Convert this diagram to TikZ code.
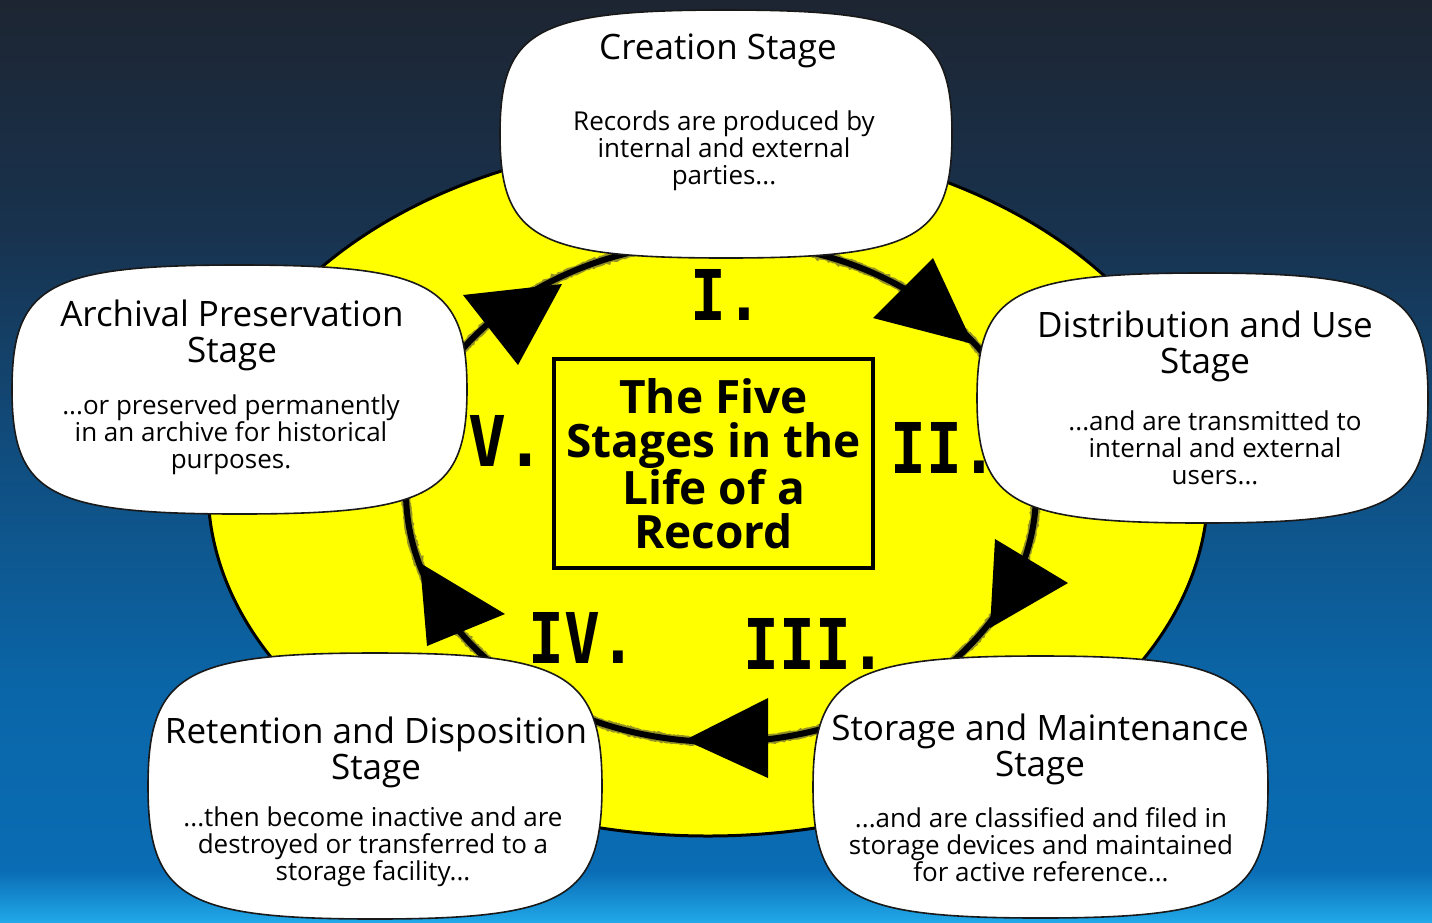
\documentclass[tikz,border=0pt]{standalone}
\usepackage{fontspec}
\setmainfont{Open Sans}
\newfontfamily\numfont{DejaVu Sans Mono}
\usetikzlibrary{decorations.pathmorphing}

\definecolor{bgTop}{RGB}{29,37,50}
\definecolor{bgB}{RGB}{24,50,78}
\definecolor{bgC}{RGB}{16,78,128}
\definecolor{bgD}{RGB}{10,102,168}
\definecolor{bgE}{RGB}{10,108,180}
\definecolor{bgBot}{RGB}{32,168,232}
\definecolor{sun}{RGB}{255,255,0}
\definecolor{edge}{RGB}{25,25,25}

\pgfdeclareverticalshading{bgshade}{100bp}{%
  color(0bp)=(bgBot); color(25bp)=(bgBot); color(27.8bp)=(bgE);
  color(37.5bp)=(bgD); color(50bp)=(bgC); color(62.5bp)=(bgB);
  color(75bp)=(bgTop); color(100bp)=(bgTop)}

\newcommand\stageblob[4]{%
  \draw[stagebox] ({#1+#3},{#2})
   .. controls ({#1+#3},{#2+0.84*#4}) and ({#1+0.84*#3},{#2+#4}) .. ({#1},{#2+#4})
   .. controls ({#1-0.84*#3},{#2+#4}) and ({#1-#3},{#2+0.84*#4}) .. ({#1-#3},{#2})
   .. controls ({#1-#3},{#2-0.84*#4}) and ({#1-0.84*#3},{#2-#4}) .. ({#1},{#2-#4})
   .. controls ({#1+0.84*#3},{#2-#4}) and ({#1+#3},{#2-0.84*#4}) .. ({#1+#3},{#2}) -- cycle;}

\tikzset{
  stagebox/.style={fill=white, draw=edge, line width=1.6pt},
  ttl/.style={font=\fontsize{35}{36}\selectfont, align=center, inner sep=0pt, anchor=north},
  bdy/.style={font=\fontsize{26}{27}\selectfont, align=center, inner sep=0pt, anchor=north},
  numeral/.style={font=\numfont\bfseries\fontsize{70}{70}\selectfont, inner sep=0pt},
  loopfuzz/.style={draw=black!80!yellow, opacity=0.6, line width=9pt,
     decorate, decoration={random steps, segment length=1.5pt, amplitude=0.7pt}},
  loopcore/.style={draw=black, line width=6pt},
  tipfill/.style={fill=black},
}

\begin{document}
\begin{tikzpicture}[x=1pt, y=-1pt]
\useasboundingbox (0,0) rectangle (1432,922);
\fill[shading=bgshade] (0,0) rectangle (1432,922);

% yellow disc
\draw[line width=3pt, draw=black, fill=sun] (708,488) ellipse [x radius=500, y radius=348];

% cycle loop
\path[loopfuzz] (721,492) ellipse [x radius=315, y radius=250];
\path[loopcore] (721,492) ellipse [x radius=315, y radius=250];

% arrow heads (clockwise)
\fill[tipfill] (562,284) -- (463,295) -- (518,365) -- cycle;
\fill[tipfill] (973,344) -- (933,258) -- (873,318) -- cycle;
\fill[tipfill] (990,628) -- (995,539) -- (1068,583) -- cycle;
\fill[tipfill] (685,740) -- (768,698) -- (768,778) -- cycle;
\fill[tipfill] (420,563) -- (505,614) -- (427,646) -- cycle;

% centre box
\node[draw=black, line width=4pt, fill=sun, minimum width=319pt, minimum height=209pt,
      inner sep=0pt, align=center, font=\bfseries\fontsize{46}{44}\selectfont] (core) at (713.5,463.5)
      {The Five\\Stages in the\\Life of a\\Record};

% stage bubbles
\stageblob{726}{134}{226}{124}
\stageblob{1202.5}{398}{225.5}{125}
\stageblob{239.5}{389.5}{227.5}{124.5}
\stageblob{375}{786}{227}{133}
\stageblob{1040.5}{787}{227.5}{131}

\node[ttl] (creT) at (718,34) {Creation Stage};
\node[bdy] (creB) at (724,111) {Records are produced by\\internal and external\\parties...};

\node[ttl] (disT) at (1205,311) {Distribution and Use\\Stage};
\node[bdy] (disB) at (1215,411) {...and are transmitted to\\internal and external\\users...};

\node[ttl] (arcT) at (232,300) {Archival Preservation\\Stage};
\node[bdy] (arcB) at (231,395) {...or preserved permanently\\in an archive for historical\\purposes.};

\node[ttl] (retT) at (376,717) {Retention and Disposition\\Stage};
\node[bdy] (retB) at (373,807) {...then become inactive and are\\destroyed or transferred to a\\storage facility...};

\node[ttl] (stoT) at (1040,714) {Storage and Maintenance\\Stage};
\node[bdy] (stoB) at (1041,807) {...and are classified and filed in\\storage devices and maintained\\for active reference...};

% numerals
\node[numeral] (n1) at (726,294.5) {\scalebox{0.85}[1]{I.}};
\node[numeral] (n2) at (944,447.5) {\scalebox{0.85}[1]{II.}};
\node[numeral] (n3) at (815,644) {\scalebox{0.85}[1]{III.}};
\node[numeral] (n4) at (582.5,637.5) {\scalebox{0.85}[1]{IV.}};
\node[numeral] (n5) at (506.5,441) {\scalebox{0.9}[1]{V.}};
\end{tikzpicture}
\end{document}
